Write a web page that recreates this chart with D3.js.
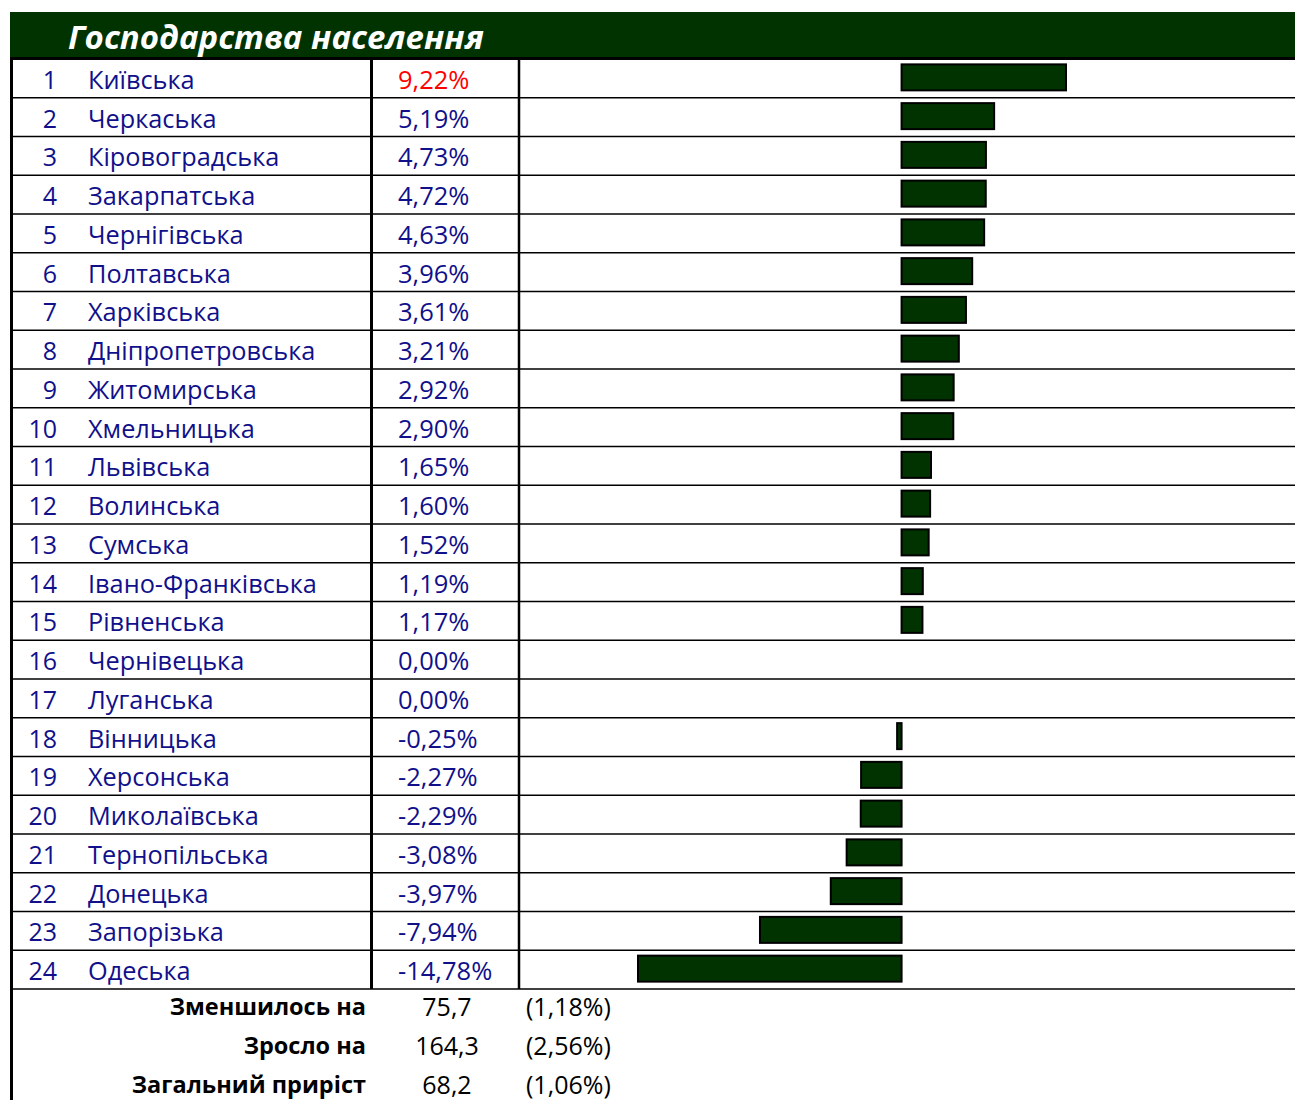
<!DOCTYPE html>
<html>
<head>
<meta charset="utf-8">
<script src="https://cdn.jsdelivr.net/npm/d3@7"></script>
<style>
  html, body { margin: 0; padding: 0; background: #fff; }
  svg { display: block; }
  text { font-family: "Open Sans", "Noto Sans", "DejaVu Sans", sans-serif; }
</style>
</head>
<body>
<script>
// Region ranking: change in household (population) farms, %
const title = "Господарства населення";
const regions = [
  "Київська", "Черкаська", "Кіровоградська", "Закарпатська", "Чернігівська",
  "Полтавська", "Харківська", "Дніпропетровська", "Житомирська", "Хмельницька",
  "Львівська", "Волинська", "Сумська", "Івано-Франківська", "Рівненська",
  "Чернівецька", "Луганська", "Вінницька", "Херсонська", "Миколаївська",
  "Тернопільська", "Донецька", "Запорізька", "Одеська"
];
const values = [
  9.22, 5.19, 4.73, 4.72, 4.63,
  3.96, 3.61, 3.21, 2.92, 2.90,
  1.65, 1.60, 1.52, 1.19, 1.17,
  0.00, 0.00, -0.25, -2.27, -2.29,
  -3.08, -3.97, -7.94, -14.78
];
// Summary lines below the table
const summaryLabels = ["Зменшилось на", "Зросло на", "Загальний приріст"];
const summaryValues = [75.7, 164.3, 68.2];
const summaryShares = [1.18, 2.56, 1.06];

const W = 1295, H = 1100;
const navy = "#10108a";
const green = "#003300";

// Ukrainian number style: decimal comma, plain hyphen for minus
const uk = s => s.replace(".", ",").replace("\u2212", "-");
const fmtPct = v => uk(d3.format(".2f")(v)) + "%";
const fmt1 = v => uk(d3.format(".1f")(v));

const svg = d3.select("body").append("svg").attr("width", W).attr("height", H);

// Layout
const left = 10, right = W;
const tableTop = 59, tableBottom = 989;
const colNumEnd = 57, colName = 88, colDiv1 = 371.5, colPct = 398, colDiv2 = 519;

const rows = d3.scaleBand().domain(d3.range(regions.length)).range([tableTop, tableBottom]).padding(0);
const rh = rows.bandwidth();
const x = d3.scaleLinear().domain(d3.extent(values)).range([638, 1066]);

// Header band
svg.append("rect").attr("x", left).attr("y", 12).attr("width", right - left).attr("height", 46).attr("fill", green);
svg.append("text").attr("x", 68).attr("y", 36).attr("dominant-baseline", "central")
  .attr("fill", "#fff").attr("font-size", 33).attr("font-weight", 700).attr("font-style", "italic")
  .text(title);

// Row separators
const g = svg.append("g");
g.selectAll("line.row").data(d3.range(1, regions.length + 1)).join("line")
  .attr("x1", left).attr("x2", right)
  .attr("y1", i => rows(i - 1) + rh).attr("y2", i => rows(i - 1) + rh)
  .attr("stroke", "#000").attr("stroke-width", 1.6);

// Bars
const barH = 26;
g.selectAll("rect.bar").data(values.map((v, i) => ({ v, i })).filter(d => d.v !== 0)).join("rect")
  .attr("class", "bar")
  .attr("x", d => Math.min(x(0), x(d.v)))
  .attr("width", d => Math.abs(x(d.v) - x(0)))
  .attr("y", d => rows(d.i) + (rh - barH) / 2 - 1)
  .attr("height", barH)
  .attr("fill", green).attr("stroke", "#000").attr("stroke-width", 2);

// Row texts
const rowText = svg.append("g");
regions.forEach((name, i) => {
  const cy = rows(i) + rh / 2 + 0.5;
  rowText.append("text").attr("x", colNumEnd).attr("y", cy).attr("dominant-baseline", "central")
    .attr("text-anchor", "end").attr("font-size", 25).attr("fill", navy).text(i + 1);
  rowText.append("text").attr("x", colName).attr("y", cy).attr("dominant-baseline", "central")
    .attr("font-size", 25.3).attr("font-weight", 500).attr("fill", navy).text(name);
  rowText.append("text").attr("x", colPct).attr("y", cy).attr("dominant-baseline", "central")
    .attr("font-size", 25.5).attr("fill", i === 0 ? "#ff0000" : navy).text(fmtPct(values[i]));
});

// Frame lines
svg.append("line").attr("x1", left).attr("x2", right).attr("y1", 58.5).attr("y2", 58.5)
  .attr("stroke", "#000").attr("stroke-width", 3);
svg.append("line").attr("x1", 11.5).attr("x2", 11.5).attr("y1", 57).attr("y2", H)
  .attr("stroke", "#000").attr("stroke-width", 3);
svg.append("line").attr("x1", colDiv1).attr("x2", colDiv1).attr("y1", 57).attr("y2", tableBottom)
  .attr("stroke", "#000").attr("stroke-width", 3);
svg.append("line").attr("x1", colDiv2).attr("x2", colDiv2).attr("y1", 57).attr("y2", tableBottom)
  .attr("stroke", "#000").attr("stroke-width", 2.5);

// Summary block
const sum = svg.append("g");
summaryLabels.forEach((lab, i) => {
  const cy = tableBottom + rh * i + rh / 2 - 2;
  sum.append("text").attr("x", 366).attr("y", cy).attr("dominant-baseline", "central")
    .attr("text-anchor", "end").attr("font-size", 23.5).attr("font-weight", 700).attr("fill", "#000").text(lab);
  sum.append("text").attr("x", 447).attr("y", cy).attr("dominant-baseline", "central")
    .attr("text-anchor", "middle").attr("font-size", 25).attr("fill", "#000").text(fmt1(summaryValues[i]));
  sum.append("text").attr("x", 526).attr("y", cy).attr("dominant-baseline", "central")
    .attr("font-size", 25).attr("fill", "#000").text("(" + uk(d3.format(".2f")(summaryShares[i])) + "%)");
});
</script>
</body>
</html>
